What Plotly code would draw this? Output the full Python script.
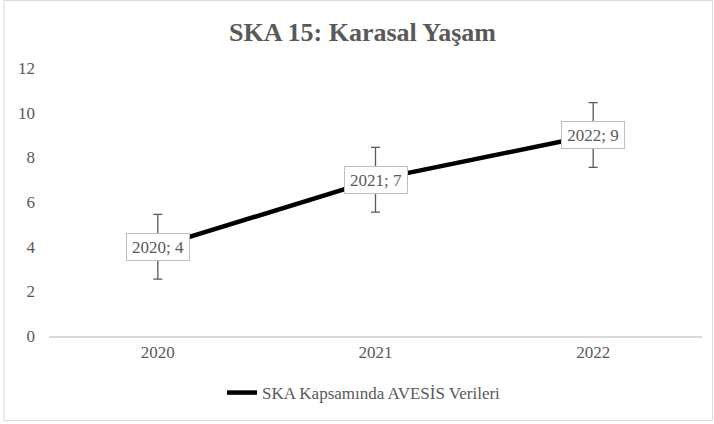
import plotly.graph_objects as go

years = ["2020", "2021", "2022"]
values = [4, 7, 9]
error_amount = [1.45, 1.45, 1.45]
y_ticks = [0, 2, 4, 6, 8, 10, 12]
title_text = "SKA 15: Karasal Yaşam"
series_name = "SKA Kapsamında AVESİS Verileri"

W, H = 714, 424
ML, MR, MT, MB = 49, 12, 68, 88
plot_w = W - ML - MR
plot_h = H - MT - MB

FONT = "'Liberation Serif', 'Times New Roman', Times, serif"
GRAY = "#595959"

fig = go.Figure()
fig.add_trace(go.Scatter(
    x=years, y=values, mode="lines", name=series_name,
    line=dict(color="black", width=4.5),
    error_y=dict(type="data", array=error_amount, visible=True,
                 color=GRAY, thickness=1.3, width=4.5),
))

for i, (x, v) in enumerate(zip(years, values)):
    fig.add_annotation(
        x=i, y=v, xref="x", yref="y", text=f"{x}; {v}", showarrow=False,
        font=dict(family=FONT, size=17, color=GRAY),
        bgcolor="white", bordercolor="#bfbfbf", borderwidth=1,
        borderpad=3, width=56, height=20, xanchor="center", yanchor="middle",
    )

def px2paper_x(px):
    return (px - ML) / plot_w

def px2paper_y(py):
    return (H - MB - py) / plot_h

fig.add_shape(type="rect", xref="paper", yref="paper",
              x0=px2paper_x(4), x1=px2paper_x(712.5),
              y0=px2paper_y(420.5), y1=px2paper_y(0.5),
              line=dict(color="#d9d9d9", width=1), fillcolor="rgba(0,0,0,0)",
              layer="below")

fig.update_layout(
    width=W, height=H,
    margin=dict(l=ML, r=MR, t=MT, b=MB, autoexpand=False),
    paper_bgcolor="white", plot_bgcolor="white",
    font=dict(family=FONT, size=17, color=GRAY),
    title=dict(text=f"<b>{title_text}</b>", font=dict(family=FONT, size=26, color=GRAY),
               x=362.5 / W, xref="container", xanchor="center",
               y=1 - 32 / H, yref="container", yanchor="middle"),
    showlegend=True,
    legend=dict(orientation="h", x=px2paper_x(222), xanchor="left",
                y=px2paper_y(393), yanchor="middle",
                font=dict(family=FONT, size=17, color=GRAY),
                bgcolor="rgba(0,0,0,0)"),
    xaxis=dict(type="category", categoryorder="array", categoryarray=years,
               range=[-0.5, 2.5], showgrid=False, zeroline=False,
               showline=True, linecolor="#d9d9d9", linewidth=1.5,
               ticks="", tickfont=dict(family=FONT, size=17, color=GRAY)),
    yaxis=dict(range=[0, 12], tickvals=y_ticks, showgrid=False, zeroline=False,
               showline=False, ticks="", ticklabelstandoff=13,
               tickfont=dict(family=FONT, size=17, color=GRAY)),
)

fig.write_html("out.html", config={"displayModeBar": False},
               post_script="document.body.style.margin='0';")
